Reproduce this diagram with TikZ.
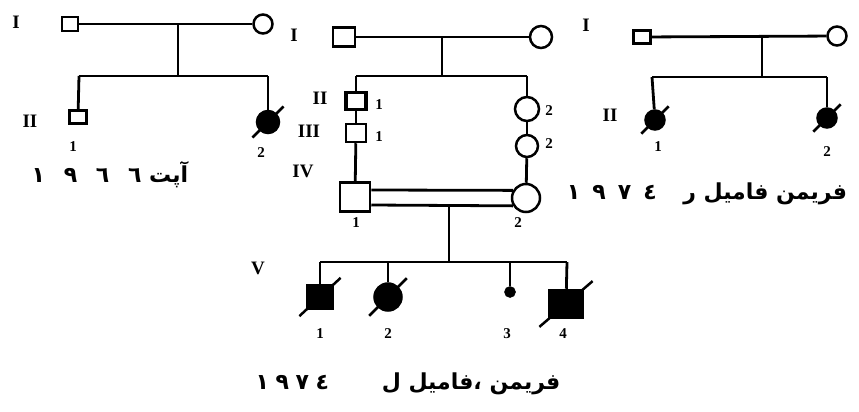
\documentclass[tikz,border=0pt]{standalone}
\usepackage{fontspec}
\setmainfont{Liberation Serif}
\newfontfamily\arabicfont[Script=Arabic]{DejaVu Sans}
\TeXXeTstate=1
\usetikzlibrary{calc}
\tikzset{
  lw/.style={line width=2.8pt},
  male/.style={draw, rectangle, line width=2.5pt, inner sep=0pt},
  female/.style={draw, circle, line width=2.5pt, inner sep=0pt},
  aff/.style={fill=black},
  gen/.style={font=\bfseries\fontsize{19}{19}\selectfont, inner sep=0pt},
  num/.style={font=\bfseries\fontsize{15}{15}\selectfont, inner sep=0pt},
  captext/.style={font=\arabicfont\bfseries\fontsize{22}{24}\selectfont, inner sep=0pt},
}
\newcommand{\slashsq}[1]{\draw[line width=2.5pt] ($(#1.south west)!-0.25!(#1.north east)$) -- ($(#1.north east)!-0.25!(#1.south west)$);}
\newcommand{\slashci}[1]{\draw[line width=2.5pt] ($(#1.south west)!-0.4!(#1.north east)$) -- ($(#1.north east)!-0.4!(#1.south west)$);}
\begin{document}
\begin{tikzpicture}[x=1pt,y=-1pt]
\useasboundingbox (0,0) rectangle (859,412);
% ---------------- left pedigree ----------------
\node[male, minimum width=16pt, minimum height=14pt] (LI1) at (70,24) {};
\node[female, minimum size=19pt] (LI2) at (263,24) {};
\draw[lw] (LI1) -- (LI2);
\coordinate (Lm) at (178,24);
\coordinate (Ls) at (178,76);
\coordinate (LsL) at (79,76);
\coordinate (LsR) at (268,76);
\draw[lw] (Lm) -- (Ls);
\draw[lw] (LsL) -- (LsR);
\node[male, minimum width=17pt, minimum height=13pt] (LII1) at (78,117) {};
\node[female, aff, minimum size=22pt] (LII2) at (268,122) {};
\draw[lw] (LsL) -- (LII1);
\draw[lw] (LsR) -- (LII2);
\slashci{LII2}
\node[gen] (gLI) at (16,22) {I};
\node[gen] (gLII) at (30,121) {II};
\node[num] (nL1) at (73,147) {1};
\node[num] (nL2) at (261,153) {2};
\node[captext] (capL) at (110,175) {\beginR آپت \beginL١\hspace{0.85em}٩\hspace{0.85em}٦\hspace{0.85em}٦\endL\endR};
% ---------------- middle pedigree ----------------
\node[male, minimum width=22pt, minimum height=19pt] (MI1) at (344,37) {};
\node[female, minimum size=22pt] (MI2) at (541,37) {};
\draw[lw] (MI1) -- (MI2);
\coordinate (Mm) at (442,37);
\coordinate (Ms) at (442,76);
\coordinate (MsL) at (356,76);
\coordinate (MsR) at (527,76);
\draw[lw] (Mm) -- (Ms);
\draw[lw] (MsL) -- (MsR);
\node[male, line width=3.2pt, minimum width=20pt, minimum height=17pt] (MII1) at (356,101) {};
\node[male, minimum width=20pt, minimum height=18pt] (MIII1) at (356,133) {};
\node[male, minimum width=30pt, minimum height=29pt] (MIV1) at (355,197) {};
\node[female, minimum size=24pt] (MII2) at (527,109) {};
\node[female, minimum size=22pt] (MIII2) at (527,146) {};
\node[female, minimum size=28pt] (MIV2) at (526,198) {};
\draw[lw] (MsL) -- (MII1);
\draw[lw] (MII1) -- (MIII1);
\draw[lw] (MIII1) -- (MIV1);
\draw[lw] (MsR) -- (MII2);
\draw[lw] (MII2) -- (MIII2);
\draw[lw] (MIII2) -- (MIV2);
\draw[lw] ([yshift=7pt]MIV1.east) -- (MIV2.150);
\draw[lw] ([yshift=-8pt]MIV1.east) -- (MIV2.211);
\coordinate (Vm) at (449,206);
\coordinate (Vs) at (449,262);
\coordinate (VsL) at (320,262);
\coordinate (VsR) at (567,262);
\draw[lw] (Vm) -- (Vs);
\draw[lw] (VsL) -- (VsR);
\node[male, aff, minimum width=25pt, minimum height=23pt] (V1) at (320,297) {};
\node[female, aff, minimum size=27pt] (V2) at (388,297) {};
\coordinate (V3top) at (510,262);
\node[female, aff, minimum size=9pt] (V3) at (510,292) {};
\node[male, aff, minimum width=33pt, minimum height=28pt] (V4) at (566,304) {};
\draw[lw] (VsL) -- (V1);
\draw[lw] (388,262) -- (V2);
\draw[lw] (V3top) -- (V3);
\draw[lw] (VsR) -- (V4);
\slashsq{V1}
\slashci{V2}
\slashsq{V4}
\node[gen] (gMI) at (294,35) {I};
\node[gen] (gMII) at (320,98) {II};
\node[gen] (gMIII) at (309,131) {III};
\node[gen] (gMIV) at (303,171) {IV};
\node[gen] (gMV) at (258,268) {V};
\node[num] (nII1) at (379,105) {1};
\node[num] (nIII1) at (379,137) {1};
\node[num] (nII2) at (549,111) {2};
\node[num] (nIII2) at (549,144) {2};
\node[num] (nIV1) at (356,223) {1};
\node[num] (nIV2) at (518,223) {2};
\node[num] (nV1) at (320,334) {1};
\node[num] (nV2) at (388,334) {2};
\node[num] (nV3) at (507,334) {3};
\node[num] (nV4) at (563,334) {4};
\node[captext] (capM) at (408,384) {\beginR فریمن ،فامیل ل\hspace{2.4em}\beginL١\hspace{0.3em}٩\hspace{0.3em}٧\hspace{0.3em}٤\endL\endR};
% ---------------- right pedigree ----------------
\node[male, minimum width=17pt, minimum height=13pt] (RI1) at (642,37) {};
\node[female, minimum size=19pt] (RI2) at (837,36) {};
\draw[lw] (RI1) -- (RI2);
\coordinate (Rm) at (762,36);
\coordinate (Rs) at (762,77);
\coordinate (RsL) at (652,77);
\coordinate (RsR) at (827,77);
\draw[lw] (Rm) -- (Rs);
\draw[lw] (RsL) -- (RsR);
\node[female, aff, minimum size=19pt] (RII1) at (655,120) {};
\node[female, aff, minimum size=19pt] (RII2) at (827,118) {};
\draw[lw] (RsL) -- (RII1);
\draw[lw] (RsR) -- (RII2);
\slashci{RII1}
\slashci{RII2}
\node[gen] (gRI) at (586,25) {I};
\node[gen] (gRII) at (610,115) {II};
\node[num] (nR1) at (658,147) {1};
\node[num] (nR2) at (827,152) {2};
\node[captext] (capR) at (707,194) {\beginR فریمن فامیل ر\hspace{1.2em}\beginL١\hspace{0.55em}٩\hspace{0.55em}٧\hspace{0.55em}٤\endL\endR};
\end{tikzpicture}
\end{document}
